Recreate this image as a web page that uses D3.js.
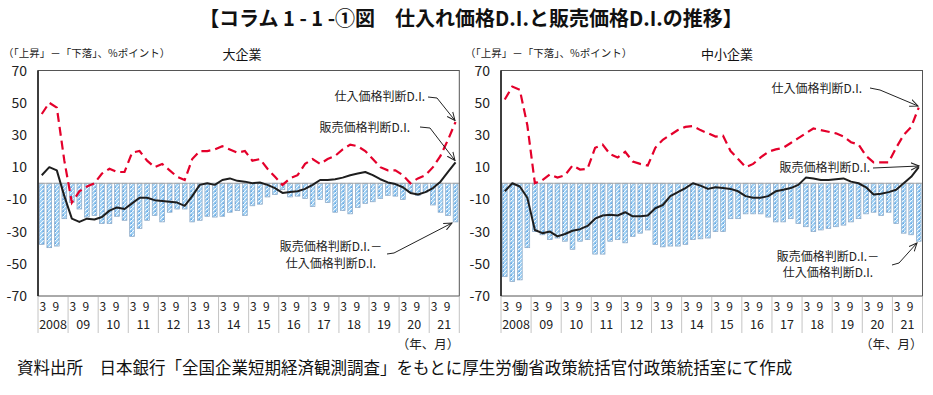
<!DOCTYPE html>
<html><head><meta charset="utf-8">
<script src="https://cdn.jsdelivr.net/npm/d3@7"></script>
<style>
html,body{margin:0;padding:0;background:#fff;}
svg{display:block;font-family:"Noto Sans CJK JP","Noto Sans",sans-serif;}
</style></head>
<body><svg id="c" width="933" height="395"></svg>
<script>
// ---- data ----
const years = d3.range(2008, 2022);
const months = [3, 6, 9, 12];
const yearLabels = ["2008","09","10","11","12","13","14","15","16","17","18","19","20","21"];
const monthTickLabels = ["3", "9"];
const yTicks = [70, 50, 30, 10, -10, -30, -50, -70];

const largeInput = [43,50,47,14,-12,-5,-2,0,6,9,7,7,19,20,14,10,12,8,4,2,15,20,20,21,23,21,19,20,14,15,9,4,-1,3,5,12,15,12,15,17,21,24,23,20,15,10,8,8,5,0,3,5,10,17,27,38];
const largeSales = [5,10,8,-8,-22,-24,-22,-22.5,-21,-17,-15,-16,-12.5,-9,-9,-10.5,-11,-11.5,-12,-14,-8,-1,0,-1,2,3,1.5,1,0,0.5,-1,-3,-6,-5.5,-5,-3.5,-1,2,2,2.5,3.5,5,6,7,5,2.5,0.5,-0.5,-2.5,-6,-7,-5.5,-3,1,7,13];
const largeDiff = [-38,-40,-39,-22,-12,-16,-21,-20,-25,-25,-20.5,-23,-33,-28,-23,-20,-24,-18,-16,-16,-24,-23,-20.5,-21,-20.5,-18,-17,-20,-14,-13,-8.5,-7,-4,-8.5,-8,-9.5,-14.5,-10,-12,-18,-17,-19,-15,-12.5,-11.5,-9.5,-7.5,-8,-10,-5.5,-7.5,-5.5,-13.5,-18,-20,-24];

const smeInput = [52,60,58,36,0,2,5.5,3.5,5,11,8.5,9,22,24,18,16,19.5,13.5,12,11,22,27,30,33,35,35.5,33,31,29,29.5,20,15,10,12,16,19.5,21,22,25,28,31,34,33,32,31,29,25.5,24,17,13,13,13,22,30,35,47];
const smeSales = [-5,0,-2,-9,-29,-31,-30,-33,-31.5,-29.5,-28.5,-26.5,-22,-20,-19.5,-20,-18,-20.5,-20.5,-20,-15.5,-13.5,-8,-5.5,-3,0,-1.5,-3.5,-2.5,-3,-3.5,-5,-8,-9,-9,-8,-5,-4,-3,-1,3.5,3,2,2,2.5,3,1,0,-2.5,-7,-6.5,-5.5,-4,0,4,10];
const smeDiff = [-58,-61,-60,-40,-30,-32,-35,-34,-36,-41,-36,-35,-44,-44,-36,-35,-37,-33,-31,-29,-38,-39.5,-39,-39,-38,-35,-34.5,-34,-30,-30,-22,-22,-19,-19,-19,-21,-24,-24,-22,-25,-27,-30,-29,-28,-27,-26,-24,-22,-19,-18,-20,-18,-25,-31,-32,-36];

const titleText = "【コラム 1 - 1 -①図　仕入れ価格D.I.と販売価格D.I.の推移】";
const unitText = "（「上昇」－「下落」、%ポイント）";
const panelTitles = ["大企業", "中小企業"];
const labelInput = "仕入価格判断D.I.";
const labelSales = "販売価格判断D.I.";
const labelDiff1 = "販売価格判断D.I.－";
const labelDiff2 = "仕入価格判断D.I.";
const xUnitText = "（年、月）";
const sourceText = "資料出所　日本銀行「全国企業短期経済観測調査」をもとに厚生労働省政策統括官付政策統括室にて作成";

// quarter categories
const quarters = [];
years.forEach(y => months.forEach(m => quarters.push(y + "-" + m)));

// ---- drawing ----
const svg = d3.select("#c");
const defs = svg.append("defs");
const pat = defs.append("pattern").attr("id","barPat").attr("patternUnits","userSpaceOnUse")
  .attr("width",4).attr("height",4);
pat.append("rect").attr("width",4).attr("height",4).attr("fill","#a3d2f4");
pat.append("path").attr("d","M0,4 L4,0 M-1,1 L1,-1 M3,5 L5,3").attr("stroke","#ffffff").attr("stroke-width",0.9);
pat.append("circle").attr("cx",3.2).attr("cy",3.2).attr("r",0.6).attr("fill","#2f83d6");
defs.append("marker").attr("id","arr").attr("viewBox","0 0 10 10").attr("refX",9).attr("refY",5)
  .attr("markerWidth",9).attr("markerHeight",9).attr("markerUnits","userSpaceOnUse").attr("orient","auto")
  .append("path").attr("d","M0,1 L9,5 L0,9").attr("fill","none").attr("stroke","#222").attr("stroke-width",1.1);

svg.append("text").attr("x",471).attr("y",26).attr("text-anchor","middle")
  .attr("font-size",20).attr("font-weight","bold").attr("fill","#111").text(titleText);

const yScale = d3.scaleLinear().domain([-70,70]).range([296,70.5]);

const panels = [
  {x0:38, x1:459.3, input:largeInput, sales:largeSales, diff:largeDiff, title:panelTitles[0], unitX:3, titleX:242, yLabX:27,
   ann:{inp:{tx:425,ty:101,path:[[428,97],[437,98],[455,120.5]]},
        sal:{tx:410,ty:132,path:[[420,127],[430,128],[455,160.5]]},
        dif:{tx:331,ty1:251,ty2:268,path:[[387,254],[394,253],[452,223]]}}},
  {x0:501, x1:922.5, input:smeInput, sales:smeSales, diff:smeDiff, title:panelTitles[1], unitX:465, titleX:727, yLabX:490,
   ann:{inp:{tx:862,ty:93,path:[[870,88],[880,90],[918,106]]},
        sal:{tx:870,ty:172,path:[[873,168],[919,166]]},
        dif:{tx:828,ty1:261,ty2:277,path:[[892,265],[899,263],[917,243]]}}}
];

panels.forEach(p => {
  const g = svg.append("g");
  const x = d3.scaleBand().domain(quarters).range([p.x0, p.x1]).paddingInner(0.37).paddingOuter(0.185);
  const bw = x.bandwidth();
  const cx = i => x(quarters[i]) + bw/2;
  const yearW = (p.x1 - p.x0) / years.length;

  // headers
  g.append("text").attr("x",p.unitX).attr("y",56.5).attr("font-size",10.5).attr("fill","#222").text(unitText);
  g.append("text").attr("x",p.titleX).attr("y",59).attr("text-anchor","middle").attr("font-size",13).attr("fill","#111").text(p.title);

  // y tick labels
  yTicks.forEach(t => {
    g.append("text").attr("x",p.yLabX).attr("y",yScale(t)+5).attr("text-anchor","end")
      .attr("font-size",14).attr("fill","#222").text(t);
  });

  // bars
  g.selectAll("rect.bar").data(p.diff).enter().append("rect").attr("class","bar")
    .attr("x",(d,i)=>x(quarters[i])).attr("width",bw)
    .attr("y",d=>yScale(Math.max(0,d))).attr("height",d=>Math.abs(yScale(d)-yScale(0)))
    .attr("fill","url(#barPat)").attr("stroke","#8aa6c4").attr("stroke-width",0.7);

  // zero line
  g.append("line").attr("x1",p.x0).attr("x2",p.x1).attr("y1",yScale(0)).attr("y2",yScale(0))
    .attr("stroke","#a8a8a8").attr("stroke-width",1);

  const line = d3.line().x((d,i)=>cx(i)).y(d=>yScale(d));
  g.append("path").attr("d",line(p.input)).attr("fill","none").attr("stroke","#e4002b")
    .attr("stroke-width",2.2).attr("stroke-dasharray","9,5");
  g.append("path").attr("d",line(p.sales)).attr("fill","none").attr("stroke","#1e1e1e")
    .attr("stroke-width",2).attr("stroke-linejoin","round");

  // frame
  g.append("rect").attr("x",p.x0).attr("y",yScale(70)).attr("width",p.x1-p.x0).attr("height",yScale(-70)-yScale(70))
    .attr("fill","none").attr("stroke","#555").attr("stroke-width",1);
  g.append("line").attr("x1",p.x0).attr("x2",p.x0).attr("y1",yScale(70)).attr("y2",yScale(-70))
    .attr("stroke","#222").attr("stroke-width",1.6);

  // x axis
  d3.range(years.length+1).forEach(j => {
    const xx = p.x0 + j*yearW;
    g.append("line").attr("x1",xx).attr("x2",xx).attr("y1",297).attr("y2",333)
      .attr("stroke","#c4c4c4").attr("stroke-width",1);
  });
  years.forEach((yr,j) => {
    g.append("text").attr("x",cx(4*j)+1).attr("y",311).attr("text-anchor","middle").attr("font-size",12).attr("fill","#222").text(monthTickLabels[0]);
    g.append("text").attr("x",cx(4*j+2)-1).attr("y",311).attr("text-anchor","middle").attr("font-size",12).attr("fill","#222").text(monthTickLabels[1]);
    g.append("text").attr("x",p.x0 + (j+0.5)*yearW).attr("y",329).attr("text-anchor","middle").attr("font-size",12.5).attr("fill","#222").text(yearLabels[j]);
  });
  g.append("text").attr("x",p.x1).attr("y",349).attr("text-anchor","end").attr("font-size",12.5).attr("fill","#222").text(xUnitText);

  // annotations
  const a = p.ann;
  const pl = d3.line();
  g.append("text").attr("x",a.inp.tx).attr("y",a.inp.ty).attr("text-anchor","end").attr("font-size",12).attr("fill","#222").text(labelInput);
  g.append("path").attr("d",pl(a.inp.path)).attr("fill","none").attr("stroke","#222").attr("stroke-width",1).attr("marker-end","url(#arr)");
  g.append("text").attr("x",a.sal.tx).attr("y",a.sal.ty).attr("text-anchor","end").attr("font-size",12).attr("fill","#222").text(labelSales);
  g.append("path").attr("d",pl(a.sal.path)).attr("fill","none").attr("stroke","#222").attr("stroke-width",1).attr("marker-end","url(#arr)");
  g.append("text").attr("x",a.dif.tx).attr("y",a.dif.ty1).attr("text-anchor","middle").attr("font-size",12).attr("fill","#222").text(labelDiff1);
  g.append("text").attr("x",a.dif.tx).attr("y",a.dif.ty2).attr("text-anchor","middle").attr("font-size",12).attr("fill","#222").text(labelDiff2);
  g.append("path").attr("d",pl(a.dif.path)).attr("fill","none").attr("stroke","#222").attr("stroke-width",1).attr("marker-end","url(#arr)");
});

svg.append("text").attr("x",17).attr("y",374).attr("font-size",16.5).attr("fill","#111").text(sourceText);
</script></body></html>
